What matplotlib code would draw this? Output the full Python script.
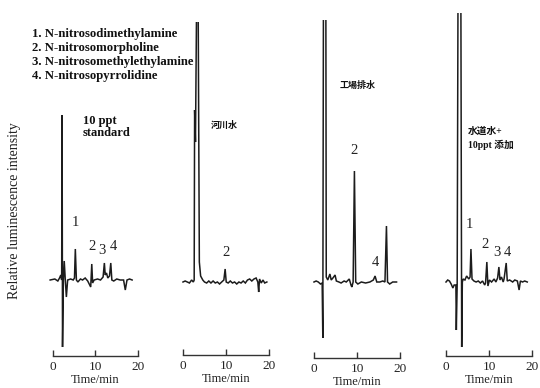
import matplotlib
matplotlib.use("Agg")
import matplotlib.pyplot as plt

W, H = 540, 388
SERIF = ["Liberation Serif", "DejaVu Serif"]
MIX = ["Liberation Serif", "Noto Sans CJK JP"]
CJK = ["Noto Sans CJK JP"]

# ---- data (time in min, relative intensity in arbitrary units above baseline) ----
t1 = [-0.6, 0.5, 1.2, 1.6, 1.9, 2.1, 2.2, 2.3, 2.5, 2.7, 2.95, 3.2, 3.5, 4.2, 4.8, 5.1, 5.3, 5.55,
      5.9, 6.5, 7.0, 7.6, 8.2, 8.9, 9.15, 9.35, 9.7, 10.5, 11.2, 11.8, 12.1, 12.3, 12.6, 12.9, 13.3,
      13.6, 13.85, 14.3, 15.0, 15.8, 16.6, 17.0, 17.4, 18.0, 18.6]
y1 = [0, 1, -1, 2, 5, 0, 165, -67, 0, 19, 0, -17, 0, 1, 0, 2, 31, 0,
      -2, 1, 0, 2, -1, -7, 16, -3, 0, 1, 0, 3, 17, 5, 7, 2, 4,
      17, 0, -1, 1, 0, 0, -10, 0, 1, 0]

t2 = [0.0, 0.5, 1.0, 1.5, 2.0, 2.4, 2.6, 2.7, 2.9, 3.2, 3.5, 3.8, 4.1, 4.6, 5.0, 5.5, 6.0, 6.5,
      7.0, 7.5, 8.0, 8.5, 9.0, 9.5, 9.8, 10.05, 10.5, 11.0, 11.5, 12.0, 12.5, 13.0, 13.5, 14.0,
      14.5, 15.0, 15.5, 16.0, 16.5, 17.0, 17.4, 17.6, 17.8, 18.2, 18.6, 19.0, 19.5]
y2 = [0, 1, 0, -1, 2, 0, 2, 172, 140, 300, 300, 20, 6, 2, 0, -1, 1, -1,
      1, -1, 0, -2, 0, 2, 13, 0, -1, 1, -1, 0, -2, 0, -1, 1,
      -1, 2, 3, 1, 3, 4, 0, -10, 3, -1, 2, -1, 0]

t3 = [0.0, 0.5, 1.0, 1.5, 1.9, 2.05, 2.2, 2.75, 2.85, 3.2, 3.7, 4.0, 4.4, 4.9, 5.2, 5.8, 6.3, 7.0,
      7.5, 8.2, 8.6, 8.8, 9.1, 9.4, 9.7, 10.2, 11.0, 12.0, 13.0, 13.8, 14.2, 14.6, 15.3, 16.0,
      16.5, 16.85, 17.1, 17.6, 18.3, 19.2]
y3 = [0, 1, 0, -2, -1, -56, 300, 300, 5, 2, 8, 2, 4, 7, 1, 0, -1, 1,
      0, 3, -3, -5, 0, 111, 0, -2, 0, -1, 0, 2, 6, 0, 0, 1,
      0, 56, 0, -2, 0, 0]

t4 = [0.0, 0.4, 0.8, 1.2, 1.6, 1.9, 2.3, 2.4, 2.6, 2.8, 3.45, 3.65, 3.8, 4.0, 4.4, 4.8, 5.3, 5.6,
      5.8, 6.05, 6.5, 7.0, 7.5, 8.0, 8.5, 9.0, 9.2, 9.5, 9.75, 10.1, 10.6, 11.2, 11.6, 12.0, 12.3,
      12.55, 12.9, 13.3, 13.5, 14.0, 14.25, 14.8, 15.5, 16.0, 16.6, 17.0, 17.3, 17.8, 18.3, 18.9]
y4 = [0, 2, 1, -2, -6, -3, -3, -48, -2, 300, 300, -65, 0, 3, 2, 6, 3, 5,
      33, 3, 1, 0, 1, -1, 1, -3, -1, 20, -4, 2, 0, 3, 0, 4, 15,
      2, 5, 0, 3, 19, 1, 2, 0, 2, 1, -8, 1, 0, 1, 0]

series_t = [t1, t2, t3, t4]
series_y = [y1, y2, y3, y4]

x_ticks = [0, 10, 20]
x_label = "Time/min"
y_label = "Relative luminescence intensity"
legend_lines = ["1. N-nitrosodimethylamine", "2. N-nitrosomorpholine",
                "3. N-nitrosomethylethylamine", "4. N-nitrosopyrrolidine"]
panel_titles = ["10 ppt\nstandard", "河川水", "工場排水", "水道水+\n10ppt 添加"]

# peak labels: (panel, text, time, intensity)
peak_labels = [
    (0, "1", 5.3, 57), (0, "2", 9.3, 33), (0, "3", 11.6, 30), (0, "4", 14.1, 33),
    (1, "2", 10.1, 29),
    (2, "2", 9.2, 132), (2, "4", 14.3, 19),
    (3, "1", 5.5, 57), (3, "2", 9.1, 38), (3, "3", 11.8, 29), (3, "4", 14.3, 29),
]

# ---- layout (pixels) ----
zero_px = [52.7, 183, 314, 446]
scale_px = [4.27, 4.3, 4.3, 4.3]
axis_px = [356, 355, 358, 356]
base_px = [280, 282, 282, 282]
top_px = [0, 22, 20, 13]          # top edge of each panel (tall peaks clip here)
title_pos = [(83, 115), (211, 125), (340, 85), (468, 126)]

fig = plt.figure(figsize=(W / 100, H / 100), dpi=100)
ink = "#1c1c1c"
axes = []
for i in range(4):
    s = scale_px[i]
    left = (zero_px[i] - 2 * s) / W
    width = 24 * s / W
    bottom = (H - axis_px[i]) / H
    height = (axis_px[i] - top_px[i]) / H
    ax = fig.add_axes([left, bottom, width, height])
    ax.set_facecolor("none")
    ax.plot(series_t[i], series_y[i], color=ink, lw=1.1, solid_joinstyle="miter")
    ax.set_xlim(-2, 22)
    ax.set_ylim(-(axis_px[i] - base_px[i]), base_px[i] - top_px[i])
    for sp in ["top", "left", "right"]:
        ax.spines[sp].set_visible(False)
    ax.spines["bottom"].set_bounds(0, 20)
    ax.spines["bottom"].set_linewidth(1.0)
    ax.spines["bottom"].set_color("#333333")
    ax.set_yticks([])
    ax.set_xticks(x_ticks)
    ax.tick_params(axis="x", direction="in", length=4, width=1.0, color="#333333",
                   pad=3.5, labelsize=9.5, labelcolor="#222222")
    for lab in ax.get_xticklabels():
        lab.set_family(SERIF)
    ax.set_xlabel(x_label, fontsize=9, family=SERIF, color="#222222", labelpad=0.5)
    axes.append(ax)

for (p, txt, tt, vv) in peak_labels:
    axes[p].text(tt, vv, txt, ha="center", va="center", fontsize=10.5, family=SERIF,
                 color="#222222")

def px(x, y):
    return x / W, 1 - y / H

# legend block
for k, line in enumerate(legend_lines):
    fig.text(*px(32, 34 + 14 * k), line, ha="left", va="center", fontsize=9.2,
             fontweight="bold", family=SERIF, color="#111111")

# panel titles
fig.text(*px(*title_pos[0]), panel_titles[0], ha="left", va="top", fontsize=9,
         fontweight="bold", family=SERIF, color="#111111", linespacing=1.05)
fig.text(*px(*title_pos[1]), panel_titles[1], ha="left", va="center", fontsize=6.5,
         fontweight="bold", family=CJK, color="#111111")
fig.text(*px(*title_pos[2]), panel_titles[2], ha="left", va="center", fontsize=6.5,
         fontweight="bold", family=CJK, color="#111111")
fig.text(*px(468, 127), panel_titles[3], ha="left", va="top", fontsize=7,
         fontweight="bold", family=MIX, color="#111111", linespacing=1.45)

fig.text(*px(15, 211), y_label, rotation=90, ha="center", va="center", fontsize=10,
         family=SERIF, color="#222222")

fig.savefig("out.png", dpi=100, facecolor="white")
